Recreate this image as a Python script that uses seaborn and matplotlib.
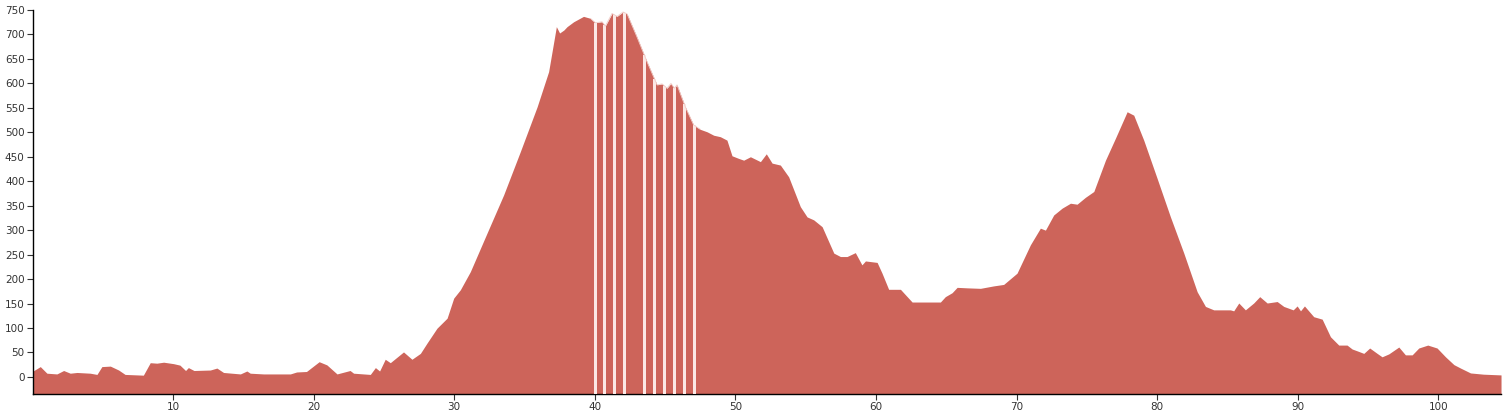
import numpy as np
import pandas as pd
import seaborn as sns
import matplotlib.pyplot as plt

# distance (km) and elevation (m)
distance = [0.0, 0.57, 1.04, 1.75, 2.23, 2.7, 3.18, 4.12, 4.6, 4.95, 5.55, 6.14, 6.6, 7.9,
            8.39, 8.86, 9.34, 10.05, 10.5, 10.9, 11.1, 11.5, 12.66, 13.13, 13.6, 14.8, 15.26,
            15.5, 16.45, 18.35, 18.8, 19.5, 20.4, 20.95, 21.67, 22.6, 22.85, 24.04, 24.4, 24.7,
            25.1, 25.46, 26.4, 27.0, 27.6, 28.07, 28.78, 29.5, 29.97, 30.44, 31.15, 32.34,
            33.52, 34.7, 35.9, 36.72, 37.27, 37.5, 37.8, 38.03, 38.5, 39.2, 39.69, 40.04,
            40.52, 40.75, 41.23, 41.59, 42.01, 42.3, 43.0, 43.72, 44.43, 44.79, 45.14, 45.42,
            45.66, 45.85, 46.44, 47.03, 47.51, 47.99, 48.46, 48.93, 49.4, 49.76, 50.2, 50.59,
            51.07, 51.78, 52.2, 52.61, 53.2, 53.79, 54.62, 55.1, 55.57, 56.17, 57.0, 57.47,
            57.94, 58.53, 59.0, 59.25, 60.08, 60.43, 60.9, 61.74, 62.09, 62.57, 64.58, 64.93,
            65.41, 65.77, 66.48, 67.43, 68.37, 69.08, 70.03, 70.98, 71.69, 72.05, 72.64,
            73.24, 73.83, 74.3, 74.89, 75.49, 76.32, 77.03, 77.86, 78.33, 79.04, 79.99, 80.94,
            81.89, 82.84, 83.43, 84.02, 85.2, 85.44, 85.8, 86.27, 86.86, 87.29, 87.82, 88.53,
            89.0, 89.67, 89.95, 90.19, 90.47, 91.13, 91.73, 92.32, 92.91, 93.5, 93.86, 94.33,
            94.69, 95.11, 95.64, 95.99, 96.47, 97.18, 97.65, 98.13, 98.6, 99.24, 99.9, 100.5,
            101.1, 101.57, 102.28, 103.2, 104.45]
elevation = [11, 21, 7.5, 6, 13, 7.5, 9, 7.5, 5, 21, 22, 14, 5, 3.5,
             29, 28, 30, 27, 24, 13, 19, 13, 14, 18, 9, 6, 12,
             7.5, 6, 6, 10, 11, 31, 24.5, 6, 13, 7.5, 5, 19, 12,
             36, 29, 51, 36, 48, 69, 99.5, 120, 161, 178, 215, 294,
             372, 460, 552, 624, 716, 703, 709, 716, 726, 737, 733, 724,
             726, 717, 743, 737, 746, 742, 695, 644, 597, 599, 590, 600,
             590, 597, 552, 515, 506, 501, 494, 491, 484, 452, 447, 443,
             450, 440, 456, 437, 433, 409, 348, 327, 321, 307, 253, 246,
             246, 254, 229, 237, 234, 212, 179, 179, 168, 153, 153, 164,
             172, 183, 182, 181, 186, 189, 212, 270, 304, 300, 331,
             345, 355, 353, 367, 379, 443, 488, 542, 535, 484, 406, 327,
             253, 174, 144, 137, 137, 135, 151, 137, 151, 164, 151, 154,
             144, 137, 145, 135, 145, 123, 118, 82, 65, 65, 57, 52,
             48, 59, 48, 41, 47, 61, 45, 45, 59, 65, 59, 41,
             25, 18, 8, 5.5, 4]

# light stripes over the climb
stripe_km = [40.04, 40.68, 41.39, 42.1, 43.53, 44.24, 44.95, 45.66, 46.37, 47.08]

y_ticks = list(range(0, 751, 50))
x_ticks = list(range(10, 101, 10))

df = pd.DataFrame({"km": distance, "elev": elevation})

sns.set_style("ticks")
plt.rcParams["font.family"] = ["DejaVu Sans"]

fig = plt.figure(figsize=(15.06, 4.12), dpi=100)
ax = fig.add_axes([0.0219, 0.0437, 0.9748, 0.932])

fill_color = "#cd645a"
y_floor = -35
ax.fill_between(df["km"], y_floor, df["elev"], color=fill_color, lw=0)

# stripes reach up to the profile
stripe_h = np.interp(stripe_km, df["km"], df["elev"])
ax.bar(stripe_km, stripe_h - y_floor, bottom=y_floor, width=0.2,
       color="#fce8e5", lw=0, zorder=3)

# faint outline on the striped section
seg = df[(df["km"] >= 39.6) & (df["km"] <= 47.6)]
sns.lineplot(data=seg, x="km", y="elev", ax=ax, color="#f0cdc8", lw=0.6, zorder=4)

ax.set_xlim(0.05, 104.45)
ax.set_ylim(y_floor, 750)
ax.set_xticks(x_ticks)
ax.set_yticks(y_ticks)
ax.set_xlabel("")
ax.set_ylabel("")
ax.tick_params(axis="both", labelsize=7.5, length=4, width=0.8, colors="#333333", pad=2)
sns.despine(ax=ax)
for s in ["left", "bottom"]:
    ax.spines[s].set_color("black")
    ax.spines[s].set_linewidth(1)

fig.savefig("out.png", dpi=100)
